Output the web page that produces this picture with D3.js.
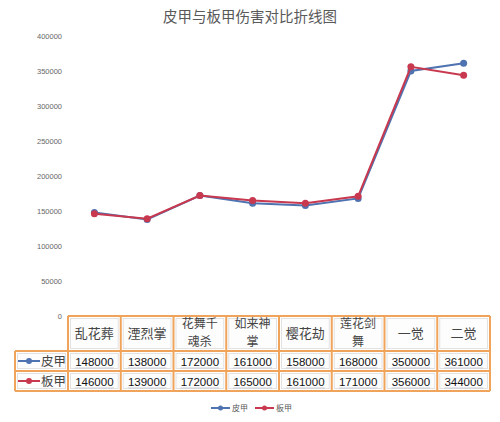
<!DOCTYPE html>
<html>
<head>
<meta charset="utf-8">
<script src="https://cdn.jsdelivr.net/npm/d3@7"></script>
<style>
  body { margin: 0; background: #fff; }
  svg { display: block; }
</style>
</head>
<body>
<svg></svg>
<script>
// chart data
var categories = ["乱花葬", "湮烈掌", "花舞千魂杀", "如来神掌", "樱花劫", "莲花剑舞", "一觉", "二觉"];
var headerLines = [["乱花葬"], ["湮烈掌"], ["花舞千", "魂杀"], ["如来神", "掌"], ["樱花劫"], ["莲花剑", "舞"], ["一觉"], ["二觉"]];
var seriesNames = ["皮甲", "板甲"];
var piJia = [148000, 138000, 172000, 161000, 158000, 168000, 350000, 361000];
var banJia = [146000, 139000, 172000, 165000, 161000, 171000, 356000, 344000];
var yTicks = [0, 50000, 100000, 150000, 200000, 250000, 300000, 350000, 400000];
var colors = ["#4f72b0", "#c8394f"];

var width = 500, height = 422;
var fontCJK = "'Noto Sans CJK SC', 'Noto Sans', sans-serif";

var svg = d3.select("svg")
    .attr("width", width)
    .attr("height", height);

svg.append("rect")
    .attr("width", width).attr("height", height)
    .attr("fill", "#fff");

var x = d3.scaleBand()
    .domain(categories)
    .range([68, 490]);

var y = d3.scaleLinear()
    .domain([0, 400000])
    .range([316, 36]);

// title
svg.append("text")
    .attr("x", 250).attr("y", 22)
    .attr("text-anchor", "middle")
    .attr("font-family", fontCJK)
    .attr("font-size", 14.5)
    .attr("fill", "#595959")
    .text("皮甲与板甲伤害对比折线图");

// y axis (labels only)
var yAxis = svg.append("g")
    .attr("transform", "translate(64,0)")
    .call(d3.axisLeft(y).tickValues(yTicks).tickSize(0).tickPadding(2).tickFormat(d3.format("d")));
yAxis.select(".domain").remove();
yAxis.selectAll("text")
    .attr("font-family", "'Liberation Sans', Arial, sans-serif")
    .attr("font-size", 7.5)
    .attr("fill", "#666");

// lines
var series = [piJia, banJia];
var line = d3.line()
    .x(function (d, i) { return x(categories[i]) + x.bandwidth() / 2; })
    .y(function (d) { return y(d); });

series.forEach(function (values, s) {
    var g = svg.append("g");
    g.append("path")
        .datum(values)
        .attr("fill", "none")
        .attr("stroke", colors[s])
        .attr("stroke-width", 2)
        .attr("d", line);
    g.selectAll("circle")
        .data(values)
        .enter().append("circle")
        .attr("cx", function (d, i) { return x(categories[i]) + x.bandwidth() / 2; })
        .attr("cy", function (d) { return y(d); })
        .attr("r", 3.5)
        .attr("fill", colors[s]);
});

// data table
var border = "#f0a35a";
var headerTop = 316, headerBottom = 351, row1Bottom = 371, row2Bottom = 391;
var rowTops = [headerBottom, row1Bottom];
var rowBottoms = [row1Bottom, row2Bottom];
var labelLeft = 15, labelRight = 68;

var table = svg.append("g");

// inner cell boxes (light text-box look)
function cellBox(x0, y0, x1, y1) {
    table.append("rect")
        .attr("x", x0 + 2.5).attr("y", y0 + 2.5)
        .attr("width", x1 - x0 - 5).attr("height", y1 - y0 - 5)
        .attr("fill", "#fdfdfd")
        .attr("stroke", "#e2e2e2")
        .attr("stroke-width", 1);
}

categories.forEach(function (c, i) {
    var x0 = x(c), x1 = x0 + x.bandwidth();
    var cx = (x0 + x1) / 2;
    cellBox(x0, headerTop, x1, headerBottom);
    var lines = headerLines[i];
    // wrapped header: one text element, one tspan per line
    var t = table.append("text")
        .attr("x", cx)
        .attr("y", lines.length === 1 ? 338 : 328)
        .attr("text-anchor", "middle")
        .attr("font-family", fontCJK)
        .attr("font-size", lines.length === 1 ? 13 : 12)
        .attr("fill", "#444");
    lines.forEach(function (l, k) {
        t.append("tspan")
            .attr("x", cx)
            .attr("dy", k === 0 ? 0 : 17.8)
            .text(l);
    });
    series.forEach(function (values, s) {
        cellBox(x0, rowTops[s], x1, rowBottoms[s]);
        table.append("text")
            .attr("x", cx)
            .attr("y", rowTops[s] + 15)
            .attr("text-anchor", "middle")
            .attr("font-family", "'Liberation Sans', Arial, sans-serif")
            .attr("font-size", 11.5)
            .attr("fill", "#111")
            .text(values[i]);
        table.append("line")
            .attr("x1", x0 + 7).attr("x2", x1 - 7)
            .attr("y1", rowTops[s] + 17).attr("y2", rowTops[s] + 17)
            .attr("stroke", "#c8ccd8").attr("stroke-width", 1);
    });
});

// row labels with series icon
seriesNames.forEach(function (name, s) {
    cellBox(labelLeft, rowTops[s], labelRight, rowBottoms[s]);
    var cy = (rowTops[s] + rowBottoms[s]) / 2;
    table.append("line")
        .attr("x1", 18).attr("x2", 40)
        .attr("y1", cy).attr("y2", cy)
        .attr("stroke", colors[s]).attr("stroke-width", 2);
    table.append("circle")
        .attr("cx", 29).attr("cy", cy).attr("r", 3)
        .attr("fill", colors[s]);
    table.append("text")
        .attr("x", 41).attr("y", cy + 4.5)
        .attr("font-family", fontCJK)
        .attr("font-size", 12.5)
        .attr("fill", "#444")
        .text(name);
});

// orange grid lines
var colEdges = categories.map(function (c) { return x(c); }).concat([x.range()[1]]);
var grid = svg.append("g")
    .attr("stroke", border)
    .attr("stroke-width", 2)
    .attr("fill", "none");
grid.append("line")
    .attr("x1", labelRight).attr("x2", colEdges[colEdges.length - 1])
    .attr("y1", headerTop).attr("y2", headerTop);
[headerBottom, row1Bottom, row2Bottom].forEach(function (yy) {
    grid.append("line")
        .attr("x1", labelLeft).attr("x2", colEdges[colEdges.length - 1])
        .attr("y1", yy).attr("y2", yy);
});
grid.append("line")
    .attr("x1", labelLeft).attr("x2", labelLeft)
    .attr("y1", headerBottom).attr("y2", row2Bottom);
colEdges.forEach(function (xx) {
    grid.append("line")
        .attr("x1", xx).attr("x2", xx)
        .attr("y1", headerTop).attr("y2", row2Bottom);
});

// legend
var legend = svg.append("g");
var legendX = [211, 255];
seriesNames.forEach(function (name, s) {
    var lx = legendX[s];
    legend.append("line")
        .attr("x1", lx).attr("x2", lx + 19)
        .attr("y1", 408).attr("y2", 408)
        .attr("stroke", colors[s]).attr("stroke-width", 2);
    legend.append("circle")
        .attr("cx", lx + 9.5).attr("cy", 408).attr("r", 2.5)
        .attr("fill", colors[s]);
    legend.append("text")
        .attr("x", lx + 21).attr("y", 411)
        .attr("font-family", fontCJK)
        .attr("font-size", 8)
        .attr("fill", "#595959")
        .text(name);
});
</script>
</body>
</html>
